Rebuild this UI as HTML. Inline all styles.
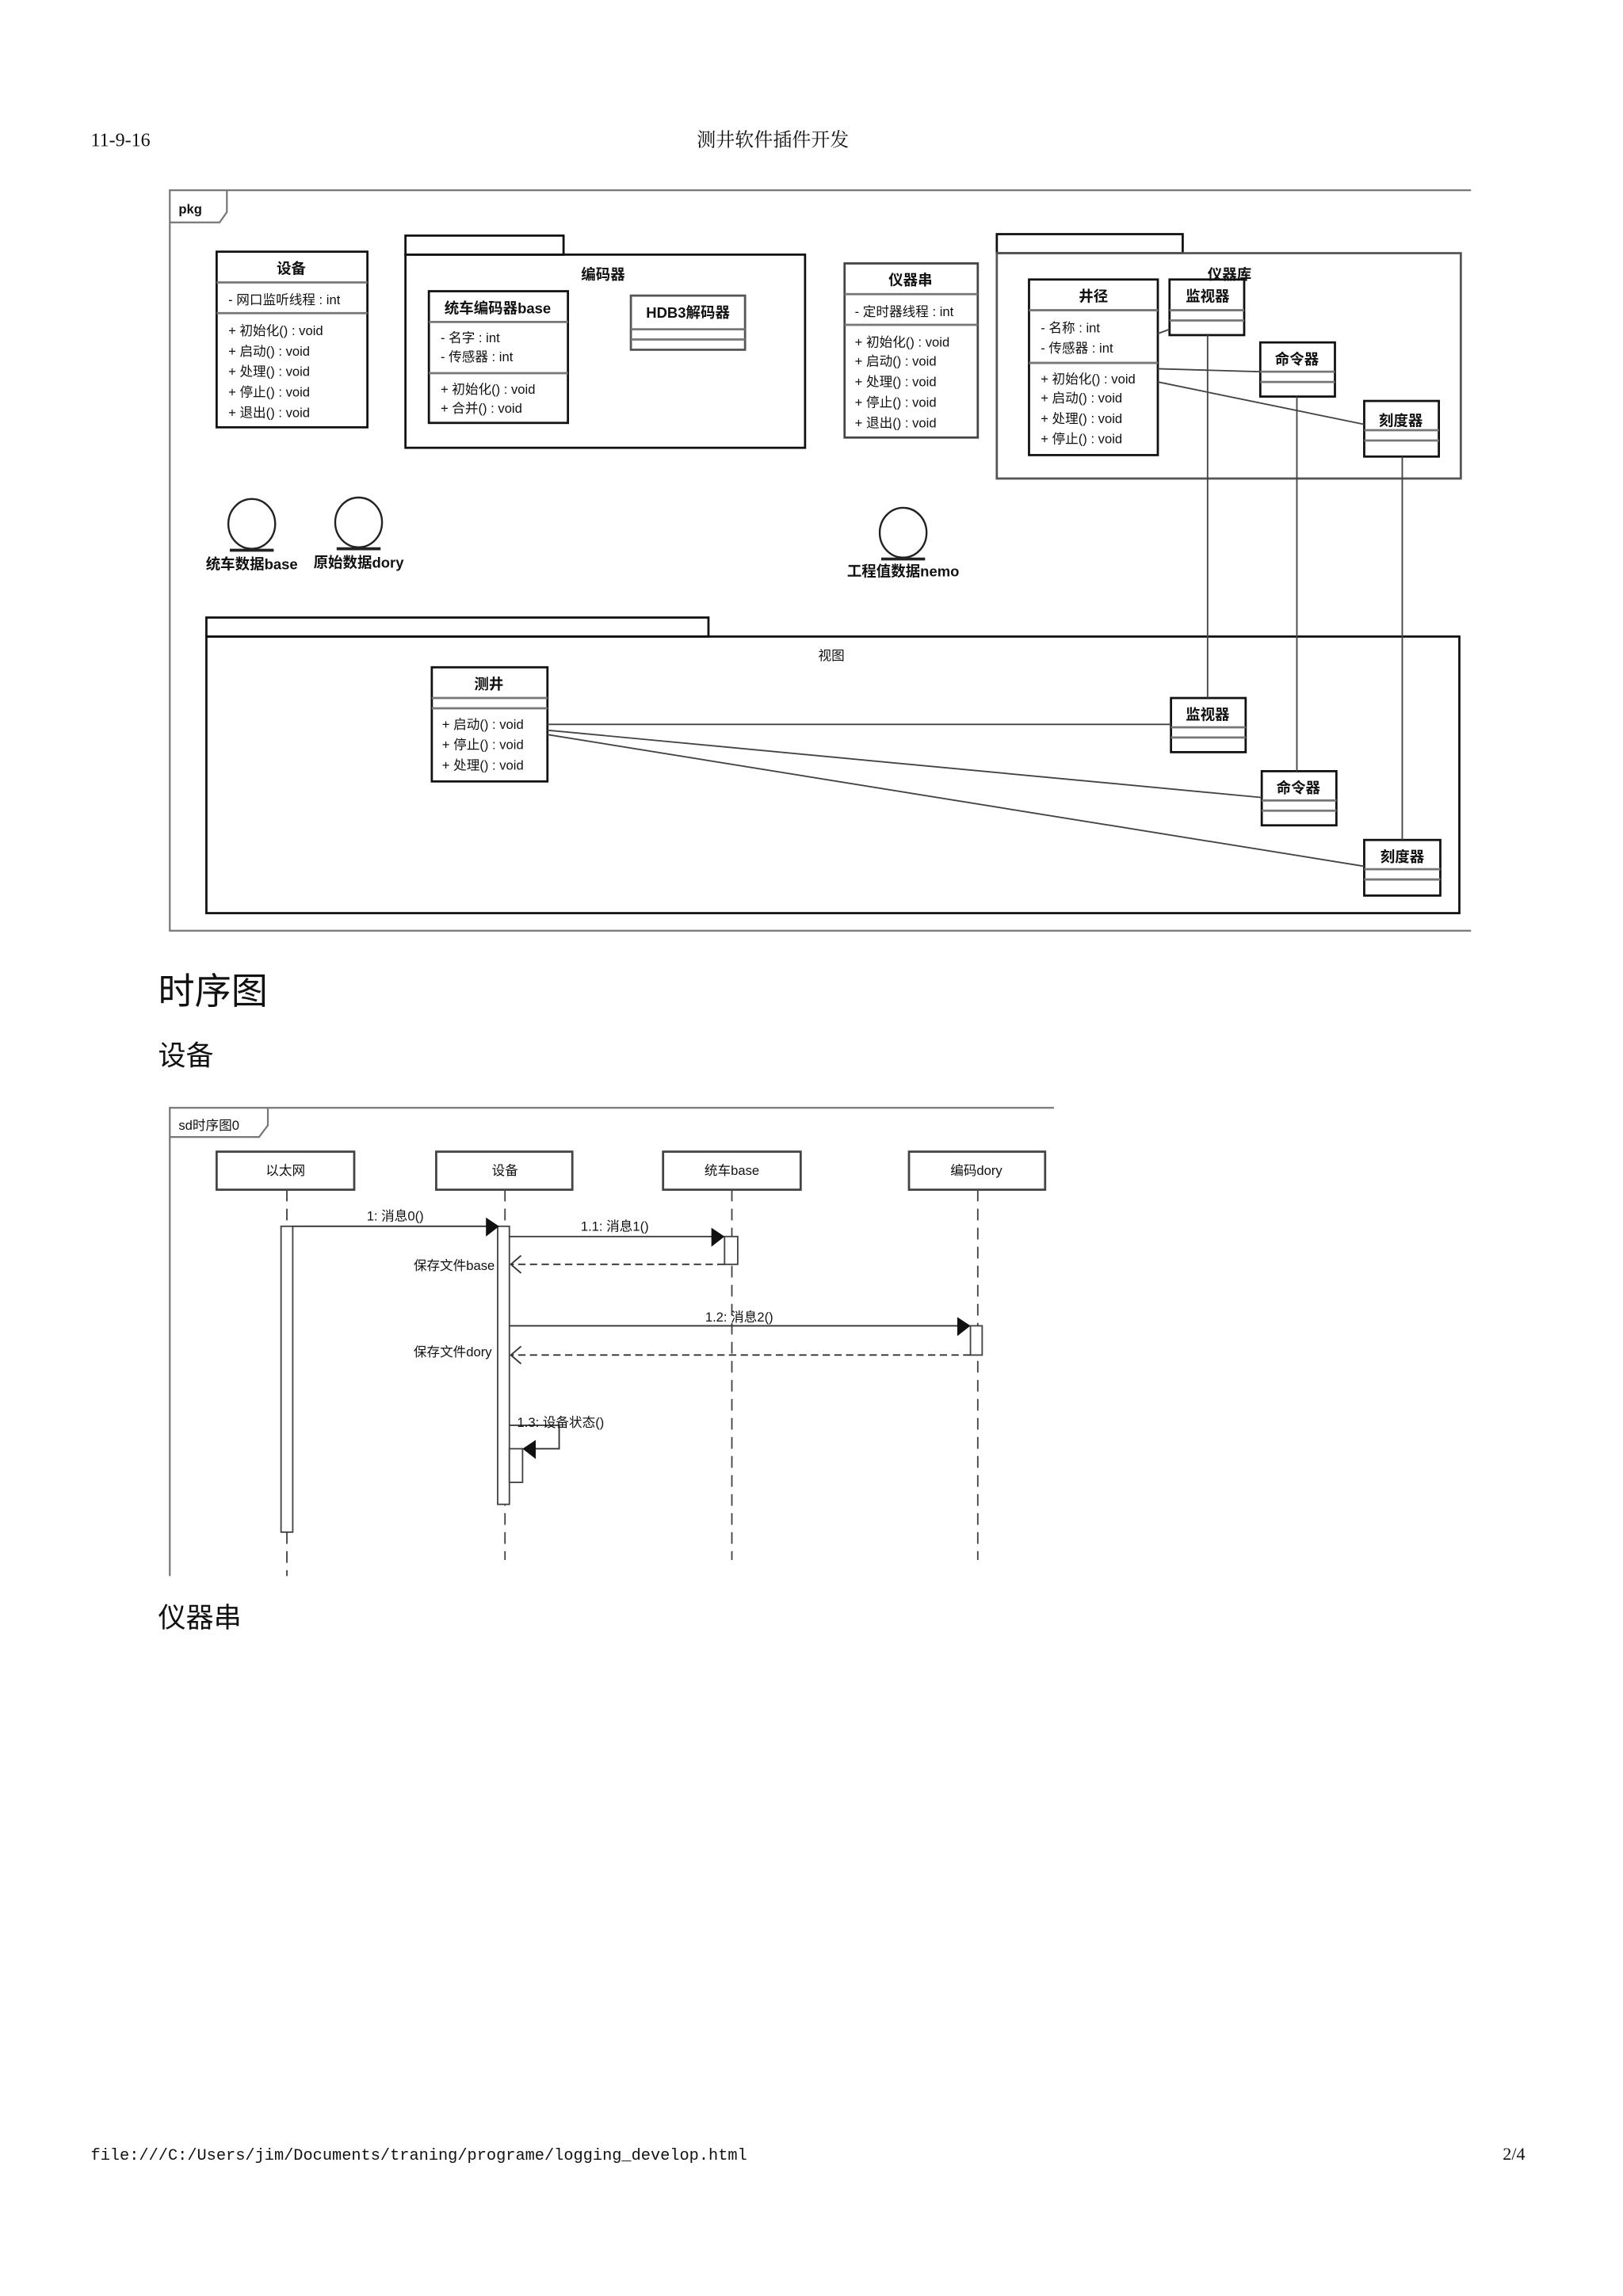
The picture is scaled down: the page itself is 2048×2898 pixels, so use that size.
<!DOCTYPE html>
<html><head><meta charset="utf-8"><style>
html,body{margin:0;padding:0;background:#fff;}
svg{display:block;}
text{font-family:"Liberation Sans","Noto Sans CJK SC",sans-serif;fill:#111;}
.s{font-size:9px;}
.b{font-size:10px;font-weight:bold;}
</style></head><body>
<svg width="2048" height="2898" viewBox="0 0 1108.8 1569" preserveAspectRatio="none" xmlns="http://www.w3.org/2000/svg">
<rect width="1108.8" height="1569" fill="#fff"/>
<!-- header -->
<text x="62" y="100" style="font-family:'Liberation Serif','Noto Serif CJK SC',serif;font-size:13px">11-9-16</text>
<text x="528" y="100" text-anchor="middle" style="font-family:'Liberation Serif','Noto Serif CJK SC',serif;font-size:13px">测井软件插件开发</text>

<!-- pkg frame -->
<g fill="none" stroke="#777" stroke-width="1.2">
<polyline points="1005,130 116,130 116,636 1005,636"/>
<polyline points="116,152 150,152 155,145 155,130"/>
</g>
<text x="122" y="146" class="s" style="font-weight:bold">pkg</text>

<g stroke="#111" fill="none" stroke-width="1.5">
<rect x="148" y="172" width="103" height="120"/>
<line x1="148" y1="193" x2="251" y2="193" stroke="#777"/>
<line x1="148" y1="214" x2="251" y2="214" stroke="#777"/>
<rect x="277" y="161" width="108" height="13"/>
<rect x="277" y="174" width="273" height="132"/>
<rect x="293" y="199" width="95" height="90"/>
<line x1="293" y1="220" x2="388" y2="220" stroke="#777"/>
<line x1="293" y1="255" x2="388" y2="255" stroke="#777"/>
<rect x="431" y="202" width="78" height="37" stroke="#555"/>
<line x1="431" y1="225" x2="509" y2="225" stroke="#777"/>
<line x1="431" y1="232" x2="509" y2="232" stroke="#777"/>
<rect x="577" y="180" width="91" height="119" stroke="#444"/>
<line x1="577" y1="201" x2="668" y2="201" stroke="#777"/>
<line x1="577" y1="222" x2="668" y2="222" stroke="#777"/>
<rect x="681" y="160" width="127" height="13"/>
<rect x="681" y="173" width="317" height="154" stroke="#555"/>
<rect x="703" y="191" width="88" height="120"/>
<line x1="703" y1="212" x2="791" y2="212" stroke="#777"/>
<line x1="703" y1="248" x2="791" y2="248" stroke="#777"/>
<rect x="799" y="191" width="51" height="38"/>
<line x1="799" y1="212" x2="850" y2="212" stroke="#777"/>
<line x1="799" y1="219" x2="850" y2="219" stroke="#777"/>
<rect x="861" y="234" width="51" height="37"/>
<line x1="861" y1="254" x2="912" y2="254" stroke="#777"/>
<line x1="861" y1="261" x2="912" y2="261" stroke="#777"/>
<rect x="932" y="274" width="51" height="38"/>
<line x1="932" y1="294" x2="983" y2="294" stroke="#777"/>
<line x1="932" y1="301" x2="983" y2="301" stroke="#777"/>
<rect x="141" y="422" width="343" height="13"/>
<rect x="141" y="435" width="856" height="189"/>
<rect x="295" y="456" width="79" height="78"/>
<line x1="295" y1="477" x2="374" y2="477" stroke="#777"/>
<line x1="295" y1="484" x2="374" y2="484" stroke="#777"/>
<rect x="800" y="477" width="51" height="37"/>
<line x1="800" y1="497" x2="851" y2="497" stroke="#777"/>
<line x1="800" y1="504" x2="851" y2="504" stroke="#777"/>
<rect x="862" y="527" width="51" height="37"/>
<line x1="862" y1="547" x2="913" y2="547" stroke="#777"/>
<line x1="862" y1="554" x2="913" y2="554" stroke="#777"/>
<rect x="932" y="574" width="52" height="38"/>
<line x1="932" y1="594" x2="984" y2="594" stroke="#777"/>
<line x1="932" y1="601" x2="984" y2="601" stroke="#777"/>
</g>
<g stroke="#444" stroke-width="1" fill="none">
<line x1="825" y1="229" x2="825" y2="477"/>
<line x1="886" y1="271" x2="886" y2="527"/>
<line x1="958" y1="312" x2="958" y2="574"/>
<line x1="791" y1="228" x2="799" y2="225"/>
<line x1="791" y1="252" x2="861" y2="254"/>
<line x1="791" y1="261" x2="932" y2="290"/>
<line x1="374" y1="495" x2="800" y2="495"/>
<line x1="374" y1="499" x2="862" y2="545"/>
<line x1="374" y1="502" x2="932" y2="592"/>
</g>
<g stroke="#222" fill="none" stroke-width="1.3">
<ellipse cx="172" cy="358" rx="16" ry="17"/><line x1="157" y1="376" x2="187" y2="376" stroke-width="2"/>
<ellipse cx="245" cy="357" rx="16" ry="17"/><line x1="230" y1="375" x2="260" y2="375" stroke-width="2"/>
<ellipse cx="617" cy="364" rx="16" ry="17"/><line x1="602" y1="382" x2="632" y2="382" stroke-width="2"/>
</g>
<text x="172" y="389" text-anchor="middle" class="b">统车数据base</text>
<text x="245" y="388" text-anchor="middle" class="b">原始数据dory</text>
<text x="617" y="394" text-anchor="middle" class="b">工程值数据nemo</text>

<text x="199" y="187" text-anchor="middle" class="b">设备</text>
<text x="156" y="208" class="s">- 网口监听线程 : int</text>
<text x="156" y="229" class="s">+ 初始化() : void</text>
<text x="156" y="243" class="s">+ 启动() : void</text>
<text x="156" y="257" class="s">+ 处理() : void</text>
<text x="156" y="271" class="s">+ 停止() : void</text>
<text x="156" y="285" class="s">+ 退出() : void</text>

<text x="412" y="191" text-anchor="middle" class="b">编码器</text>
<text x="340" y="214" text-anchor="middle" class="b">统车编码器base</text>
<text x="301" y="234" class="s">- 名字 : int</text>
<text x="301" y="247" class="s">- 传感器 : int</text>
<text x="301" y="269" class="s">+ 初始化() : void</text>
<text x="301" y="282" class="s">+ 合并() : void</text>
<text x="470" y="217" text-anchor="middle" class="b">HDB3解码器</text>

<text x="622" y="195" text-anchor="middle" class="b">仪器串</text>
<text x="584" y="216" class="s">- 定时器线程 : int</text>
<text x="584" y="237" class="s">+ 初始化() : void</text>
<text x="584" y="250" class="s">+ 启动() : void</text>
<text x="584" y="264" class="s">+ 处理() : void</text>
<text x="584" y="278" class="s">+ 停止() : void</text>
<text x="584" y="292" class="s">+ 退出() : void</text>

<text x="840" y="191" text-anchor="middle" class="b">仪器库</text>
<text x="747" y="206" text-anchor="middle" class="b">井径</text>
<text x="711" y="227" class="s">- 名称 : int</text>
<text x="711" y="241" class="s">- 传感器 : int</text>
<text x="711" y="262" class="s">+ 初始化() : void</text>
<text x="711" y="275" class="s">+ 启动() : void</text>
<text x="711" y="289" class="s">+ 处理() : void</text>
<text x="711" y="303" class="s">+ 停止() : void</text>
<text x="825" y="206" text-anchor="middle" class="b">监视器</text>
<text x="886" y="249" text-anchor="middle" class="b">命令器</text>
<text x="957" y="291" text-anchor="middle" class="b">刻度器</text>

<text x="568" y="451" text-anchor="middle" class="s">视图</text>
<text x="334" y="471" text-anchor="middle" class="b">测井</text>
<text x="302" y="498" class="s">+ 启动() : void</text>
<text x="302" y="512" class="s">+ 停止() : void</text>
<text x="302" y="526" class="s">+ 处理() : void</text>
<text x="825" y="492" text-anchor="middle" class="b">监视器</text>
<text x="887" y="542" text-anchor="middle" class="b">命令器</text>
<text x="958" y="589" text-anchor="middle" class="b">刻度器</text>

<text x="108" y="686" style="font-family:'Noto Sans CJK SC',sans-serif;font-size:25px">时序图</text>
<text x="108" y="728" style="font-family:'Noto Sans CJK SC',sans-serif;font-size:19px">设备</text>

<g fill="none" stroke="#777" stroke-width="1.2">
<polyline points="116,1077 116,757 720,757"/>
<polyline points="116,777 177,777 183,769 183,757"/>
</g>
<text x="122" y="772" class="s">sd时序图0</text>
<g fill="#fff" stroke="#444" stroke-width="1.5">
<rect x="148" y="787" width="94" height="26"/>
<rect x="298" y="787" width="93" height="26"/>
<rect x="453" y="787" width="94" height="26"/>
<rect x="621" y="787" width="93" height="26"/>
</g>
<text x="195" y="803" text-anchor="middle" class="s">以太网</text>
<text x="345" y="803" text-anchor="middle" class="s">设备</text>
<text x="500" y="803" text-anchor="middle" class="s">统车base</text>
<text x="667" y="803" text-anchor="middle" class="s">编码dory</text>
<g stroke="#444" stroke-width="1" stroke-dasharray="8,5">
<line x1="196" y1="813" x2="196" y2="1077"/>
<line x1="345" y1="813" x2="345" y2="1066"/>
<line x1="500" y1="813" x2="500" y2="1066"/>
<line x1="668" y1="813" x2="668" y2="1066"/>
</g>
<g fill="#fff" stroke="#444" stroke-width="1">
<rect x="192" y="838" width="8" height="209"/>
<rect x="340" y="838" width="8" height="190"/>
<rect x="495" y="845" width="9" height="19"/>
<rect x="663" y="906" width="8" height="20"/>
<rect x="348" y="990" width="9" height="23"/>
</g>
<g stroke="#333" stroke-width="1" fill="none">
<line x1="200" y1="838" x2="336" y2="838"/>
<line x1="348" y1="845" x2="491" y2="845"/>
<line x1="348" y1="906" x2="659" y2="906"/>
<line x1="495" y1="864" x2="349" y2="864" stroke-dasharray="5,3"/>
<line x1="663" y1="926" x2="349" y2="926" stroke-dasharray="5,3"/>
<polyline points="356,858 349,864 356,870"/>
<polyline points="356,920 349,926 356,932"/>
<polyline points="348,974 382,974 382,990 362,990"/>
</g>
<g fill="#111">
<polygon points="332,832 341,838 332,845"/>
<polygon points="486,839 495,845 486,852"/>
<polygon points="654,900 663,906 654,913"/>
<polygon points="366,984 357,990 366,997"/>
</g>
<text x="270" y="834" text-anchor="middle" class="s">1: 消息0()</text>
<text x="420" y="841" text-anchor="middle" class="s">1.1: 消息1()</text>
<text x="505" y="903" text-anchor="middle" class="s">1.2: 消息2()</text>
<text x="383" y="975" text-anchor="middle" class="s">1.3: 设备状态()</text>
<text x="338" y="868" text-anchor="end" class="s">保存文件base</text>
<text x="336" y="927" text-anchor="end" class="s">保存文件dory</text>

<text x="108" y="1112" style="font-family:'Noto Sans CJK SC',sans-serif;font-size:19px">仪器串</text>

<text x="62" y="1476" style="font-family:'Liberation Mono',monospace;font-size:11px">file:///C:/Users/jim/Documents/traning/programe/logging_develop.html</text>
<text x="1042" y="1476" text-anchor="end" style="font-family:'Liberation Serif',serif;font-size:12px">2/4</text>
</svg>
</body></html>
